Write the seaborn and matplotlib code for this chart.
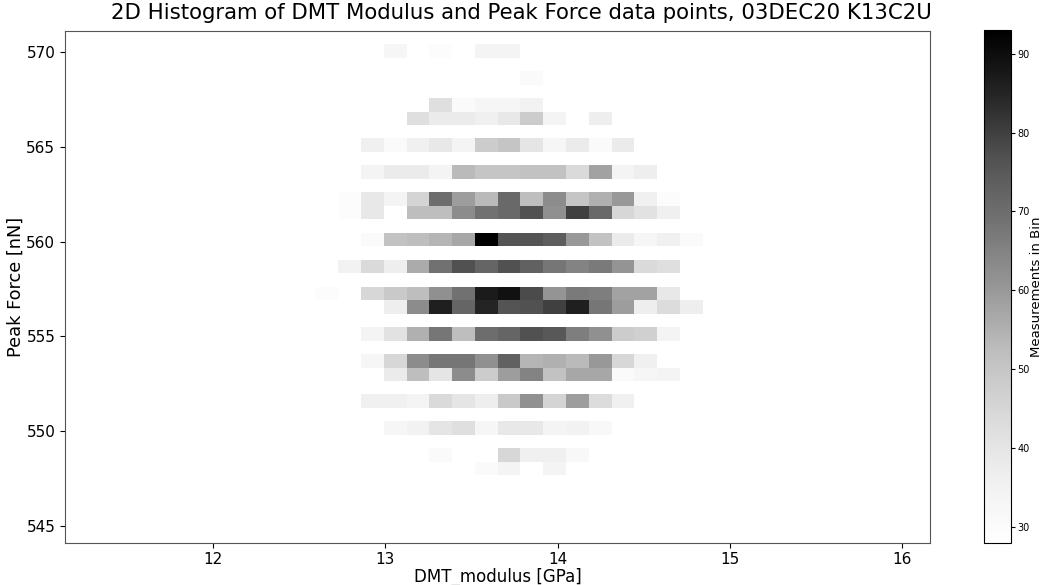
import numpy as np
import pandas as pd
import matplotlib
matplotlib.use("Agg")
import matplotlib.pyplot as plt
import seaborn as sns

# Histogram grid definition
modulus_range = (11.141, 16.163)   # DMT modulus [GPa]
force_range = (544.10, 571.14)     # Peak force [nN]
n_bins = 38
count_limits = (28, 93)

# Populated part of the grid: each row starts at modulus bin 11 and spans 18 bins;
# force_bins gives the peak-force bin index (counted from the bottom) of each row.
first_modulus_bin = 11
force_bins = [36, 34, 32, 31, 29, 27, 25, 24, 22, 20, 18, 17, 15, 13, 12, 10, 8, 6, 5]
bin_counts = [
    [0, 0, 0, 33, 0, 30, 0, 34, 34, 0, 0, 0, 0, 0, 0, 0, 0, 0],
    [0, 0, 0, 0, 0, 0, 0, 0, 0, 31, 0, 0, 0, 0, 0, 0, 0, 0],
    [0, 0, 0, 0, 0, 42, 31, 33, 33, 35, 0, 0, 0, 0, 0, 0, 0, 0],
    [0, 0, 0, 0, 42, 38, 38, 36, 39, 48, 34, 0, 37, 0, 0, 0, 0, 0],
    [0, 0, 36, 31, 36, 39, 34, 48, 50, 40, 33, 38, 31, 38, 0, 0, 0, 0],
    [0, 0, 34, 38, 38, 34, 53, 50, 50, 51, 51, 44, 58, 34, 37, 0, 0, 0],
    [0, 30, 39, 34, 46, 70, 59, 53, 71, 52, 63, 50, 55, 60, 36, 30, 0, 0],
    [0, 30, 39, 0, 52, 52, 63, 69, 71, 77, 62, 80, 71, 45, 41, 36, 0, 0],
    [0, 0, 31, 51, 52, 54, 57, 93, 76, 76, 74, 60, 51, 38, 33, 36, 31, 0],
    [0, 35, 44, 37, 56, 69, 77, 72, 77, 73, 68, 65, 67, 61, 44, 42, 0, 0],
    [30, 0, 45, 49, 52, 62, 69, 87, 89, 78, 61, 67, 66, 58, 58, 39, 0, 0],
    [0, 0, 0, 37, 63, 86, 72, 85, 76, 77, 80, 86, 68, 59, 37, 43, 37, 0],
    [0, 0, 34, 41, 55, 68, 52, 70, 72, 77, 75, 66, 62, 48, 47, 34, 0, 0],
    [0, 0, 33, 45, 63, 68, 68, 62, 73, 54, 55, 53, 60, 45, 36, 0, 0, 0],
    [0, 0, 0, 38, 52, 40, 63, 48, 59, 65, 51, 57, 57, 31, 33, 34, 0, 0],
    [0, 0, 36, 36, 34, 44, 40, 37, 49, 62, 46, 59, 43, 36, 0, 0, 0, 0],
    [0, 0, 0, 33, 35, 40, 42, 33, 39, 39, 34, 35, 32, 0, 0, 0, 0, 0],
    [0, 0, 0, 0, 0, 31, 0, 0, 45, 36, 36, 32, 0, 0, 0, 0, 0, 0],
    [0, 0, 0, 0, 0, 0, 0, 31, 34, 0, 34, 0, 0, 0, 0, 0, 0, 0],
]

title = "2D Histogram of DMT Modulus and Peak Force data points, 03DEC20 K13C2U"
x_label = "DMT_modulus [GPa]"
y_label = "Peak Force [nN]"
cbar_label = "Measurements in Bin"

# Bin centres, so each weighted point lands in its own cell
x_edges = np.linspace(*modulus_range, n_bins + 1)
y_edges = np.linspace(*force_range, n_bins + 1)
x_centres = (x_edges[:-1] + x_edges[1:]) / 2
y_centres = (y_edges[:-1] + y_edges[1:]) / 2

records = []
for row_bin, row in zip(force_bins, bin_counts):
    for offset, count in enumerate(row):
        if count > 0:
            records.append((x_centres[first_modulus_bin + offset], y_centres[row_bin], count))
df = pd.DataFrame(records, columns=["modulus", "force", "count"])

fig = plt.figure(figsize=(10.42, 5.85), dpi=100)
ax = fig.add_axes([65 / 1042, 1 - 542.7 / 585, 865.3 / 1042, 512 / 585])
cax = fig.add_axes([984.3 / 1042, 1 - 542.7 / 585, 26.4 / 1042, 512.7 / 585])

sns.histplot(
    data=df, x="modulus", y="force", weights="count",
    bins=n_bins, binrange=(modulus_range, force_range),
    cmap="Greys", vmin=count_limits[0], vmax=count_limits[1],
    cbar=True, cbar_ax=cax,
    ax=ax,
)

ax.set_xlim(*modulus_range)
ax.set_ylim(*force_range)
ax.set_xticks([12, 13, 14, 15, 16])
ax.set_yticks([545, 550, 555, 560, 565, 570])
ax.tick_params(labelsize=11)
ax.set_xlabel(x_label, fontsize=12, labelpad=0)
ax.set_ylabel(y_label, fontsize=12.8, labelpad=1)
for spine in ax.spines.values():
    spine.set_color("#555555")

cax.tick_params(labelsize=7, length=3, pad=2)
cax.set_ylabel(cbar_label, fontsize=9.5, labelpad=0)

fig.suptitle(title, x=0.5, y=1 - 3 / 585, va="top", fontsize=15.3)

fig.savefig("out.png", dpi=100)
